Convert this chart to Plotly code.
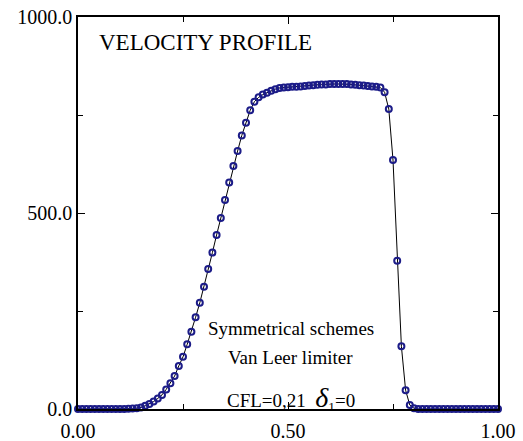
import plotly.graph_objects as go

# --- data ---
x_vals = [i / 100 for i in range(101)]
velocity = [
    0, 0, 0, 0, 0, 0, 0, 0, 0, 0,            # 0.00-0.09
    0, 0, 0.5, 1, 2, 4, 8, 13, 19, 27,       # 0.10-0.19
    36, 50, 66, 84, 110, 133, 165, 197, 234, 271,   # 0.20-0.29
    312, 357, 399, 444, 487, 533, 578, 620, 658, 698,  # 0.30-0.39
    730, 762, 784, 795, 802, 807, 812, 816, 819, 820,  # 0.40-0.49
    821, 822, 822, 823, 824, 825, 826, 827, 828, 828,  # 0.50-0.59
    829, 829, 829, 829, 829, 828, 827, 826, 825, 824,  # 0.60-0.69
    823, 822, 820, 808, 765, 635, 378, 160, 48, 10,    # 0.70-0.79
    2, 0, 0, 0, 0, 0, 0, 0, 0, 0,            # 0.80-0.89
    0, 0, 0, 0, 0, 0, 0, 0, 0, 0, 0          # 0.90-1.00
]
x_tickvals = [0.0, 0.5, 1.0]
x_ticktext = ["0.00", "0.50", "1.00"]
y_tickvals = [0, 500, 1000]
y_ticktext = ["0.0", "500.0", "1000.0"]

FONT = "Liberation Serif"

fig = go.Figure()
fig.add_trace(go.Scatter(
    x=x_vals, y=velocity, mode="lines+markers",
    line=dict(color="black", width=1),
    marker=dict(symbol="circle-open", size=6, color="#1c1c88",
                line=dict(width=2, color="#1c1c88")),
    cliponaxis=False, showlegend=False,
))

axis_common = dict(showline=True, linecolor="black", linewidth=1.5, mirror="ticks",
                   ticks="inside", ticklen=7, tickwidth=1.2, tickcolor="black",
                   showgrid=False, zeroline=False, automargin=False,
                   tickfont=dict(family=FONT, size=20, color="black"))

fig.update_xaxes(range=[0, 1], tickvals=x_tickvals, ticktext=x_ticktext,
                 ticklabelstandoff=3,
                 minor=dict(tickvals=[0.25, 0.75], ticks="inside", ticklen=5,
                            tickwidth=1.2, tickcolor="black"),
                 **axis_common)
fig.update_yaxes(range=[0, 1000], tickvals=y_tickvals, ticktext=y_ticktext,
                 minor=dict(tickvals=[250, 750], ticks="inside", ticklen=5,
                            tickwidth=1.2, tickcolor="black"),
                 **axis_common)

ann_font = dict(family=FONT, size=19, color="black")
fig.add_annotation(x=0.045, y=0.936, xref="paper", yref="paper",
                   xanchor="left", yanchor="middle", showarrow=False,
                   text="VELOCITY PROFILE", font=dict(family=FONT, size=23, color="black"))
fig.add_annotation(x=0.507, y=0.212, xref="paper", yref="paper",
                   xanchor="center", yanchor="middle", showarrow=False, yshift=-3,
                   text="Symmetrical schemes", font=ann_font)
fig.add_annotation(x=0.507, y=0.145, xref="paper", yref="paper",
                   xanchor="center", yanchor="middle", showarrow=False, yshift=-5,
                   text="Van Leer limiter", font=ann_font)
fig.add_annotation(x=0.507, y=0.045, xref="paper", yref="paper",
                   xanchor="center", yanchor="middle", showarrow=False, yshift=-7,
                   text="CFL=0,21  <span style='font-size:28px'><i>δ</i></span><sub>1</sub>=0",
                   font=ann_font)

fig.update_layout(
    width=523, height=441,
    margin=dict(l=78, r=25, t=17, b=32),
    paper_bgcolor="white", plot_bgcolor="white",
    font=dict(family=FONT),
)

fig.write_html("out.html")
